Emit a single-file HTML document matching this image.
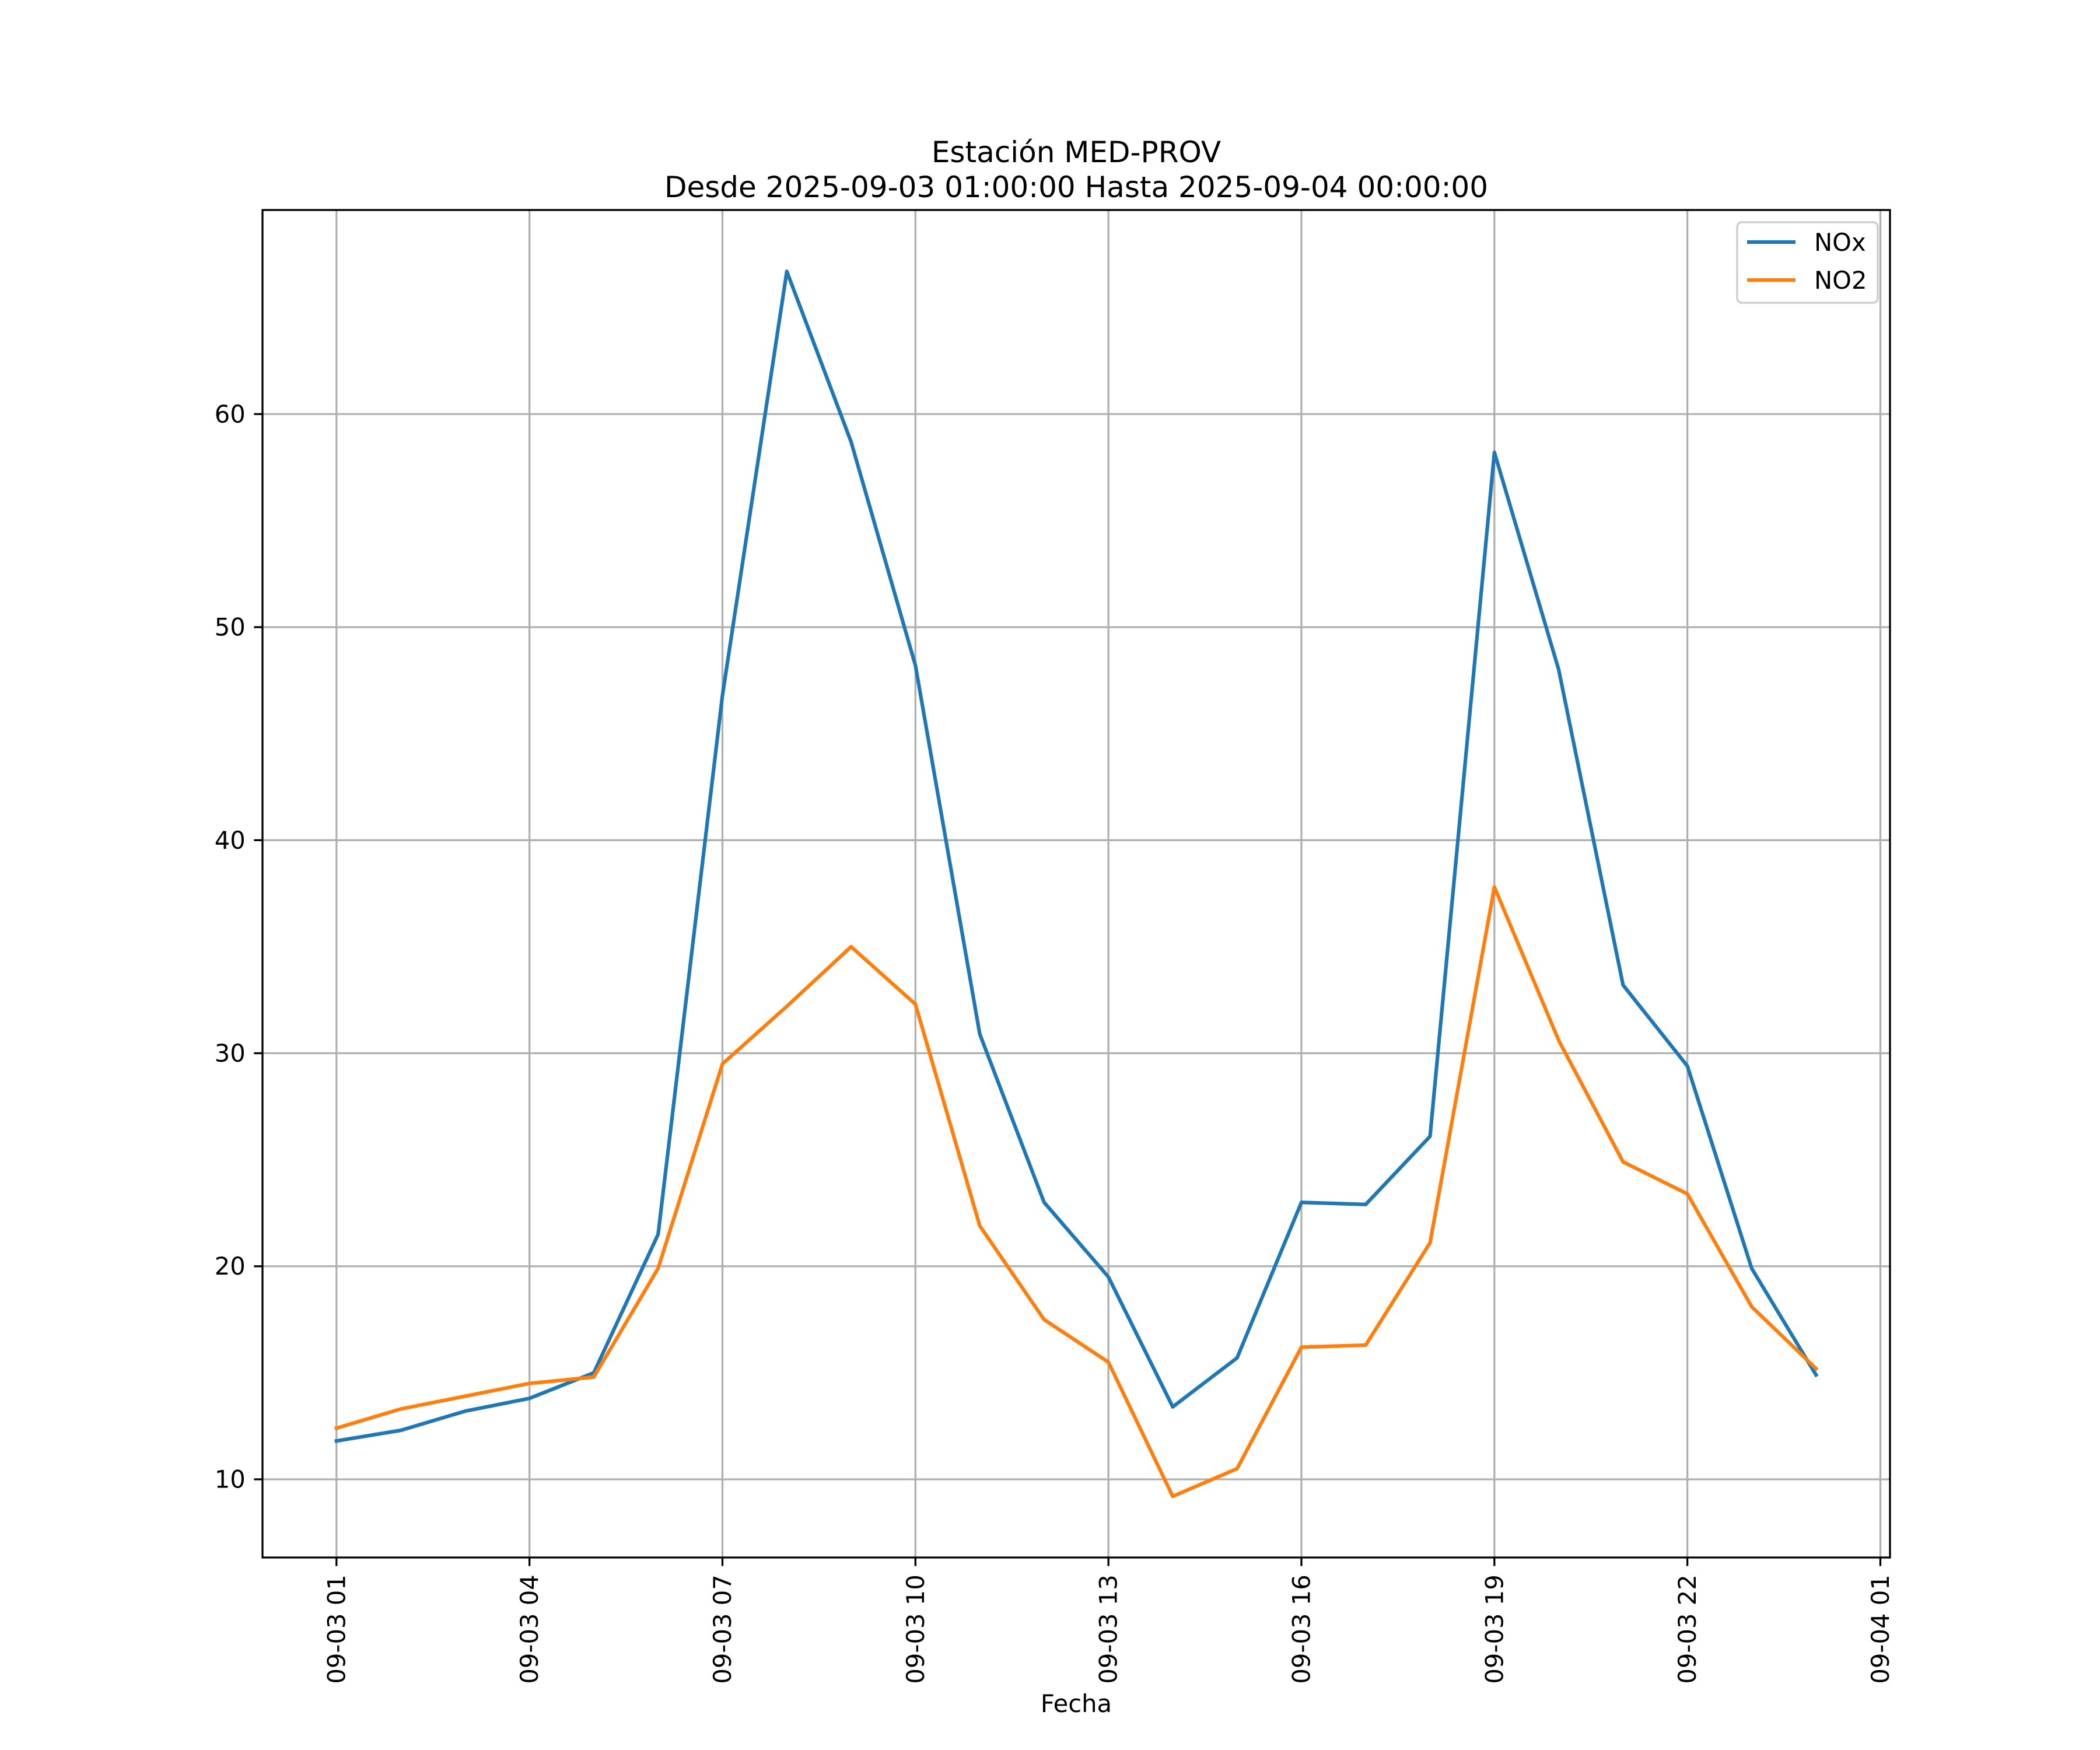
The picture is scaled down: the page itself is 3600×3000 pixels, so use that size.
<!DOCTYPE html>
<html><head><meta charset="utf-8">
<style>
html,body{margin:0;padding:0;background:#fff;}
svg{display:block;font-family:"DejaVu Sans","Liberation Sans",sans-serif;}
</style></head>
<body>
<svg id="chart" width="3600" height="3000" viewBox="0 0 3600 3000" xmlns="http://www.w3.org/2000/svg">
<rect width="3600" height="3000" fill="#fff"/>
<g id="grid"></g>
<g id="series"></g>
<rect x="450" y="360" width="2790" height="2310" fill="none" stroke="#000" stroke-width="3.3"/>
<g id="axes"></g>
<text x="1845" y="278" font-size="50" text-anchor="middle">Estación MED-PROV</text>
<text x="1845" y="338" font-size="50" text-anchor="middle">Desde 2025-09-03 01:00:00 Hasta 2025-09-04 00:00:00</text>
<text x="1845" y="2935" font-size="41.7" text-anchor="middle">Fecha</text>
<g>
<rect x="2978" y="381" width="241" height="138" rx="8" fill="#fff" fill-opacity="0.8" stroke="#cccccc" stroke-width="3.3"/>
<line x1="2995" y1="415" x2="3078" y2="415" stroke="#1f77b4" stroke-width="6.25"/>
<text x="3110" y="430" font-size="41.7">NOx</text>
<line x1="2995" y1="480" x2="3078" y2="480" stroke="#ff7f0e" stroke-width="6.25"/>
<text x="3110" y="495" font-size="41.7">NO2</text>
</g>
</svg>
<script>
const hours = [1,2,3,4,5,6,7,8,9,10,11,12,13,14,15,16,17,18,19,20,21,22,23,24];
const noxValues = [11.8,12.3,13.2,13.8,15.0,21.5,46.8,66.7,58.7,48.2,30.9,23.0,19.5,13.4,15.7,23.0,22.9,26.1,58.2,48.0,33.2,29.4,19.9,14.9];
const no2Values = [12.4,13.3,13.9,14.5,14.8,19.9,29.5,32.2,35.0,32.3,21.9,17.5,15.5,9.2,10.5,16.2,16.3,21.1,37.8,30.6,24.9,23.4,18.1,15.2];
const xTickValues = [1,4,7,10,13,16,19,22,25];
const xTickLabels = ["09-03 01","09-03 04","09-03 07","09-03 10","09-03 13","09-03 16","09-03 19","09-03 22","09-04 01"];
const yTickValues = [10,20,30,40,50,60];

const L=450,R=3240,T=360,B=2670;
const XMIN=-0.15,XMAX=25.15,YMIN=6.33,YMAX=69.58;
const NS="http://www.w3.org/2000/svg";
function xs(v){return L+(v-XMIN)/(XMAX-XMIN)*(R-L);}
function ys(v){return B-(v-YMIN)/(YMAX-YMIN)*(B-T);}
function mk(tag,attrs,parent){const e=document.createElementNS(NS,tag);for(const k in attrs)e.setAttribute(k,attrs[k]);parent.appendChild(e);return e;}
const grid=document.getElementById('grid'),axes=document.getElementById('axes'),series=document.getElementById('series');

xTickValues.forEach((v,i)=>{
  const x=xs(v);
  const g=mk('line',{x1:x,y1:T,x2:x,y2:B,stroke:'#b0b0b0','stroke-width':3.3},grid);
  
  
  const t=mk('line',{x1:x,y1:B,x2:x,y2:B+14.6,stroke:'#000','stroke-width':3.3},axes);
  
  
  const tx=mk('text',{x:0,y:0,'font-size':41.7,'text-anchor':'end','dominant-baseline':'central',transform:`translate(${x},${B+29.2}) rotate(-90)`},axes);
  tx.textContent=xTickLabels[i];
  
  
});
yTickValues.forEach(v=>{
  const y=ys(v);
  const g=mk('line',{x1:L,y1:y,x2:R,y2:y,stroke:'#b0b0b0','stroke-width':3.3},grid);
  
  
  const t=mk('line',{x1:L-14.6,y1:y,x2:L,y2:y,stroke:'#000','stroke-width':3.3},axes);
  
  
  const tx=mk('text',{x:L-29.2,y:y,'font-size':41.7,'text-anchor':'end','dominant-baseline':'central'},axes);
  tx.textContent=String(v);
  
  
});
function drawLine(vals,color,name){
  const pts=hours.map((h,i)=>xs(h).toFixed(1)+','+ys(vals[i]).toFixed(1)).join(' ');
  const p=mk('polyline',{points:pts,fill:'none',stroke:color,'stroke-width':6.25,'stroke-linejoin':'round','stroke-linecap':'square'},series);
  
  
}
drawLine(noxValues,'#1f77b4','nox-line');
drawLine(no2Values,'#ff7f0e','no2-line');
</script>
</body></html>
